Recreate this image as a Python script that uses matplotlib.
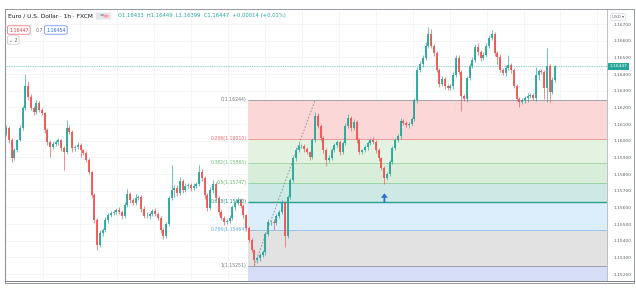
import matplotlib.pyplot as plt
from matplotlib.patches import Rectangle, FancyBboxPatch

# EUR/USD 1h candles (left to right)
closes = [
    1.16076, 1.16004, 1.15896, 1.15944, 1.16004, 1.16076, 1.16196, 1.16328, 1.16262, 1.16196,
    1.16172, 1.16226, 1.16184, 1.16166, 1.16064, 1.15992, 1.15962, 1.15980, 1.15992, 1.16004,
    1.15956, 1.15932, 1.16076, 1.16052, 1.15956, 1.15962, 1.15974, 1.15944, 1.15926, 1.15884,
    1.15812, 1.15674, 1.15524, 1.15374, 1.15446, 1.15464, 1.15524, 1.15554, 1.15566, 1.15572,
    1.15584, 1.15572, 1.15548, 1.15614, 1.15680, 1.15644, 1.15626, 1.15656, 1.15662, 1.15590,
    1.15548, 1.15548, 1.15560, 1.15578, 1.15560, 1.15536, 1.15464, 1.15428, 1.15500, 1.15656,
    1.15704, 1.15716, 1.15686, 1.15758, 1.15704, 1.15728, 1.15734, 1.15716, 1.15728, 1.15740,
    1.15812, 1.15776, 1.15674, 1.15596, 1.15704, 1.15740, 1.15656, 1.15572, 1.15536, 1.15512,
    1.15518, 1.15536, 1.15602, 1.15626, 1.15644, 1.15608, 1.15554, 1.15476, 1.15404, 1.15344,
    1.15284, 1.15296, 1.15314, 1.15332, 1.15440, 1.15512, 1.15512, 1.15506, 1.15548, 1.15572,
    1.15626, 1.15428, 1.15662, 1.15764, 1.15896, 1.15944, 1.15968, 1.15968, 1.15950, 1.15932,
    1.15902, 1.16004, 1.16148, 1.16088, 1.16016, 1.15944, 1.15884, 1.15896, 1.15944, 1.15974,
    1.15992, 1.15932, 1.15986, 1.16088, 1.16136, 1.16076, 1.16112, 1.16004, 1.15932, 1.15944,
    1.15962, 1.15986, 1.16004, 1.15992, 1.15944, 1.15896, 1.15836, 1.15776, 1.15800, 1.15872,
    1.15956, 1.16004, 1.16028, 1.16118, 1.16106, 1.16094, 1.16100, 1.16130, 1.16244, 1.16424,
    1.16460, 1.16496, 1.16568, 1.16640, 1.16568, 1.16526, 1.16424, 1.16340, 1.16370, 1.16328,
    1.16316, 1.16328, 1.16394, 1.16496, 1.16412, 1.16268, 1.16250, 1.16376, 1.16448, 1.16484,
    1.16562, 1.16532, 1.16496, 1.16514, 1.16568, 1.16616, 1.16640, 1.16526, 1.16502, 1.16424,
    1.16406, 1.16436, 1.16454, 1.16424, 1.16328, 1.16250, 1.16232, 1.16244, 1.16256, 1.16268,
    1.16274, 1.16256, 1.16394, 1.16418, 1.16412, 1.16316, 1.16448, 1.16292, 1.16364, 1.16447,
]
first_open = 1.16040

# wick lengths beyond the body, in 0.00001 units
wick_hi = [
    20, 12, 10, 14, 8, 18, 12, 72, 30, 16, 12, 20, 10, 14, 8, 12, 10, 16, 12, 10,
    8, 14, 48, 18, 10, 12, 16, 10, 8, 12, 10, 8, 14, 10, 20, 12, 16, 10, 14, 12,
    10, 18, 12, 16, 30, 14, 10, 22, 12, 10, 18, 24, 12, 10, 16, 12, 10, 14, 12, 10,
    150, 18, 20, 24, 12, 16, 14, 12, 18, 10, 42, 20, 14, 10, 18, 22, 12, 10, 14, 12,
    10, 16, 12, 14, 18, 10, 12, 8, 10, 12, 8, 10, 14, 12, 10, 16, 12, 20, 14, 10,
    16, 12, 10, 14, 12, 16, 18, 12, 10, 14, 8, 12, 24, 20, 14, 10, 12, 16, 14, 10,
    12, 10, 14, 18, 22, 10, 16, 12, 10, 8, 14, 12, 10, 16, 10, 12, 8, 10, 14, 12,
    10, 12, 14, 16, 10, 12, 14, 10, 12, 18, 16, 20, 24, 42, 28, 14, 12, 10, 16, 12,
    10, 14, 16, 20, 18, 10, 12, 14, 18, 16, 20, 24, 12, 18, 16, 20, 24, 14, 12, 16,
    10, 18, 60, 14, 12, 10, 12, 14, 10, 16, 12, 10, 48, 14, 12, 10, 108, 12, 20, 8,
]
wick_lo = [
    14, 16, 24, 10, 12, 8, 10, 14, 18, 12, 16, 10, 14, 12, 18, 16, 60, 14, 12, 18,
    16, 110, 12, 14, 22, 16, 12, 40, 14, 12, 10, 14, 16, 30, 12, 18, 14, 16, 10, 12,
    14, 12, 16, 10, 12, 18, 14, 12, 10, 16, 14, 12, 18, 10, 14, 12, 16, 18, 12, 14,
    12, 40, 16, 12, 18, 14, 10, 16, 12, 14, 10, 18, 24, 20, 12, 16, 14, 18, 12, 16,
    14, 12, 10, 16, 12, 14, 18, 16, 14, 12, 33, 20, 16, 14, 18, 12, 16, 40, 14, 12,
    10, 66, 14, 12, 10, 16, 12, 14, 18, 12, 16, 10, 14, 12, 18, 16, 36, 14, 12, 10,
    14, 16, 12, 10, 14, 16, 12, 18, 14, 12, 10, 16, 14, 12, 18, 16, 14, 36, 12, 10,
    14, 12, 10, 16, 14, 12, 18, 14, 12, 16, 14, 20, 12, 10, 14, 16, 12, 18, 14, 16,
    12, 14, 16, 10, 14, 90, 12, 16, 14, 12, 10, 16, 18, 12, 14, 10, 12, 16, 40, 14,
    12, 16, 14, 18, 12, 14, 30, 12, 16, 24, 14, 12, 16, 30, 12, 66, 84, 60, 14, 10,
]

fib_ratios = ["0", "0.236", "0.382", "0.5", "0.618", "0.786", "1"]
fib_prices = [1.16244, 1.16010, 1.15865, 1.15747, 1.15630, 1.15464, 1.15251]
price_ticks = [1.152, 1.153, 1.154, 1.155, 1.156, 1.157, 1.158, 1.159,
               1.160, 1.161, 1.162, 1.163, 1.164, 1.165, 1.166, 1.167]
last_price = 1.16447

UP, DOWN = "#26a69a", "#ef5350"
W, H = 636, 291


def px(x, y):
    """pixel position (from top-left) -> figure fraction"""
    return x / W, 1 - y / H


fig = plt.figure(figsize=(W / 100, H / 100), dpi=100)
ax = fig.add_axes([5 / W, 10 / H, 602 / W, 272 / H])
x_max = 217.75
ax.set_xlim(-0.36, x_max)
ax.set_ylim(1.15158, 1.16790)

# candles
opens = [first_open] + closes[:-1]
xs = list(range(len(closes)))
cols = [UP if c >= o else DOWN for o, c in zip(opens, closes)]
highs = [max(o, c) + h * 1e-5 for o, c, h in zip(opens, closes, wick_hi)]
lows = [min(o, c) - l * 1e-5 for o, c, l in zip(opens, closes, wick_lo)]
ax.vlines(xs, lows, highs, colors=cols, lw=0.55, alpha=0.85, zorder=3)
ax.bar(xs, [max(abs(c - o), 0.00002) for o, c in zip(opens, closes)],
       bottom=[min(o, c) for o, c in zip(opens, closes)],
       width=0.72, color=cols, alpha=0.9, zorder=4, linewidth=0)

# fibonacci retracement zones
fib_x0 = 87.7
zone_cols = ["#fbd7d8", "#e4f2e2", "#d8eedb", "#cde9e4", "#dceefb", "#e2e2e3"]
line_cols = ["#9598a1", "#f28b8b", "#9fd3a2", "#8fcf9c", "#2a9d8f", "#8dbdea", "#9598a1"]
text_cols = ["#787b86", "#f06060", "#6fbf73", "#5cb65f", "#1f8c80", "#5fa8e6", "#787b86"]
for k in range(len(zone_cols)):
    ax.fill_between([fib_x0, x_max], fib_prices[k + 1], fib_prices[k],
                    color=zone_cols[k], lw=0, zorder=1)
ax.fill_between([fib_x0, x_max], 1.15158, fib_prices[-1], color="#d6ddf6", lw=0, zorder=1)
for k, (r, p) in enumerate(zip(fib_ratios, fib_prices)):
    ax.hlines(p, fib_x0, x_max, color=line_cols[k], lw=1.0 if r == "0.618" else 0.6, zorder=2)
    ax.text(fib_x0 - 0.6, p + 0.00003, f"{r}({p:.5f})", ha="right", va="center",
            fontsize=3.3, color=text_cols[k], zorder=5)

# trend line of the fib swing
ax.plot([90, 112], [fib_prices[-1], fib_prices[0]], ls=(0, (2, 2)), color="#8a8d96",
        lw=0.6, zorder=5)

# blue arrow under the pullback low
ax.annotate("", xy=(137.1, 1.15684), xytext=(137.1, 1.15630),
            arrowprops=dict(width=1.3, headwidth=5, headlength=3.2, color="#2f6fd0", lw=0),
            zorder=6)

# last price line
ax.axhline(last_price, ls=(0, (1, 1.5)), color="#26a69a", lw=0.5, zorder=2)

# axes styling
ax.yaxis.tick_right()
ax.set_yticks(price_ticks)
ax.set_yticklabels([f"{p:.5f}" for p in price_ticks], fontsize=3.2, color="#5d606b")
ax.set_xticks([13.3 + 13.4 * k for k in range(16)])
ax.set_xticklabels([])
ax.tick_params(length=0, pad=5)
ax.grid(color="#eef1f6", lw=0.5, zorder=0)
ax.set_axisbelow(True)
for side in ["top", "bottom"]:
    ax.spines[side].set_visible(False)
ax.spines["left"].set_color("#6b6e76")
ax.spines["left"].set_linewidth(0.8)
ax.spines["right"].set_color("#b2b5be")
ax.spines["right"].set_linewidth(0.6)

# outer frame of the widget
fig.add_artist(Rectangle(px(5, 283), 629 / W, 274 / H, transform=fig.transFigure,
                         fill=False, edgecolor="#9598a1", lw=0.7))
fig.add_artist(plt.Line2D([5 / W, 634 / W], [1 - 281 / H] * 2, transform=fig.transFigure,
                          color="#6b6e76", lw=0.6))

# price label on the axis
ax.text(1.004, last_price, "1.16447", transform=ax.get_yaxis_transform(), fontsize=3.2,
        color="white", va="center", ha="left",
        bbox=dict(boxstyle="square,pad=0.35", fc="#26a69a", ec="none"))
fig.text(*px(612, 17), "USD ▾", fontsize=3, color="#5d606b", va="center",
         bbox=dict(boxstyle="round,pad=0.3", fc="white", ec="#c8cad0", lw=0.4))

# header
fig.text(*px(8, 16), "Euro / U.S. Dollar · 1h · FXCM", fontsize=4.2, color="#131722",
         va="center")
fig.add_artist(FancyBboxPatch(px(97, 19), 13 / W, 6 / H, boxstyle="round,pad=0.002",
                              transform=fig.transFigure, fc="#e6e7eb", ec="none"))
fig.text(*px(99, 16), "=", fontsize=3.5, color="#50535e", va="center")
fig.add_artist(plt.Circle(px(106, 16), 2 / W, transform=fig.transFigure, color="#f7a6a6"))
fig.text(*px(118, 16), "O1.16433  H1.16449  L1.16399  C1.16447  +0.00014 (+0.01%)",
         fontsize=3.8, color="#26a69a", va="center")
fig.text(*px(9, 30), "1.16447", fontsize=3.4, color="#f23645", va="center",
         bbox=dict(boxstyle="round,pad=0.35", fc="white", ec="#f23645", lw=0.4))
fig.text(*px(36, 30), "0.7", fontsize=3.4, color="#787b86", va="center")
fig.text(*px(46, 30), "1.16454", fontsize=3.4, color="#2962ff", va="center",
         bbox=dict(boxstyle="round,pad=0.35", fc="white", ec="#2962ff", lw=0.4))
fig.text(*px(9, 40), "⌄ 2", fontsize=3.4, color="#50535e", va="center",
         bbox=dict(boxstyle="round,pad=0.35", fc="white", ec="#b2b5be", lw=0.4))

fig.savefig("out.png", dpi=100)
